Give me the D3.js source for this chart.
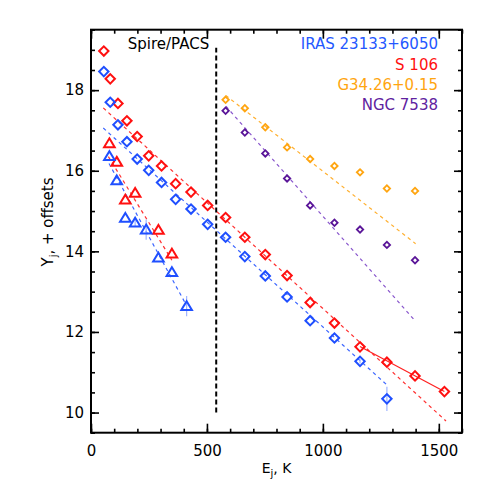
<!DOCTYPE html>
<html>
<head>
<meta charset="utf-8">
<script src="https://cdn.jsdelivr.net/npm/d3@7"></script>
<style>
  html, body { margin: 0; padding: 0; background: #fff; }
  svg text { font-family: "DejaVu Sans", sans-serif; }
</style>
</head>
<body>
<svg id="chart" width="491" height="491"></svg>
<script>
// ---- Data ----
// 12CO upper-level energies (K), J_up = 4..23
const E_CO = [55.3, 83.0, 116.2, 154.9, 199.1, 248.9, 304.2, 365.0, 431.3, 503.1,
              580.5, 663.4, 751.7, 845.6, 945.0, 1049.9, 1160.2, 1276.1, 1397.4, 1524.2];
// 13CO upper-level energies (K), J_up = 5..12
const E_13CO = [79.3, 111.1, 148.1, 190.4, 237.9, 290.8, 348.9, 412.4];

// S 106, 12CO J=4..23
const s106_CO = [18.97, 18.28, 17.67, 17.24, 16.85, 16.37, 16.12, 15.68, 15.47, 15.14,
                 14.84, 14.35, 13.92, 13.40, 12.73, 12.22, 11.63, 11.25, 10.91, 10.52];
// IRAS 23133+6050, 12CO J=4..21
const iras_CO = [18.46, 17.70, 17.14, 16.72, 16.29, 16.01, 15.71, 15.29, 15.05, 14.67,
                 14.35, 13.87, 13.39, 12.87, 12.28, 11.85, 11.27, 10.34];
const iras_CO_err = [0, 0, 0, 0, 0, 0, 0, 0, 0, 0, 0, 0, 0, 0, 0, 0, 0.05, 0.3];
// S 106, 13CO (J = 5,6,7,8,10,11)
const s106_13CO_E = [79.3, 111.1, 148.1, 190.4, 290.8, 348.9];
const s106_13CO = [16.68, 16.22, 15.28, 15.45, 14.53, 13.94];
// IRAS 23133+6050, 13CO J=5..12
const iras_13CO = [16.36, 15.76, 14.83, 14.71, 14.54, 13.84, 13.48, 12.64];
const iras_13CO_err = [0, 0, 0, 0.1, 0.25, 0, 0, 0.25];
// G34.26+0.15 and NGC 7538, 12CO J=14..22
const g34_CO = [17.76, 17.55, 17.08, 16.58, 16.29, 16.12, 15.96, 15.56, 15.50];
const ngc_CO = [17.49, 16.95, 16.43, 15.81, 15.14, 14.71, 14.54, 14.16, 13.78];

// Fitted lines: [E start, E end, Y start, Y end]
const fit_s106_CO   = [53, 1531, 17.56, 9.79];
const fit_s106_hot  = [1160, 1524, 11.64, 10.52];
const fit_iras_CO   = [53, 1281, 17.06, 10.66];
const fit_s106_13CO = [75, 349, 16.35, 13.78];
const fit_iras_13CO = [77.6, 412.7, 16.18, 12.65];
const fit_g34       = [581, 1400, 17.87, 14.19];
const fit_ngc       = [582, 1394, 17.60, 12.30];

const divider = [540, 10, 19.05];

const legendNames = ["IRAS 23133+6050", "S 106", "G34.26+0.15", "NGC 7538"];
const legendColors = ["#2457ff", "#ff1010", "#ffa510", "#6022a0"];

const xTicks = [0, 500, 1000, 1500];
const yTicks = [10, 12, 14, 16, 18];

// ---- Layout ----
const svg = d3.select("#chart");
const L = 91, R = 462, T = 29.7, B = 432.7;
const x = d3.scaleLinear().domain([0, 1600]).range([L, R]);
const y = d3.scaleLinear().domain([9.5, 19.5]).range([B, T]);

const blue = "#1f4fff", red = "#ff1010", orange = "#ffa510", purple = "#5a1598";

// ---- Axes ----
function styleAxis(g) {
  g.select(".domain").remove();
  g.selectAll(".tick line").attr("stroke", "#000").attr("stroke-width", 1.6);
  g.selectAll(".tick text").attr("fill", "#000").style("font-size", "15px")
    .style("font-family", "DejaVu Sans, sans-serif");
}
const xMinor = d3.range(0, 1601, 100);
const yMinor = d3.range(9.5, 19.51, 0.5);

// bottom
svg.append("g").attr("transform", `translate(0,${B})`)
  .call(d3.axisBottom(x).tickValues(xMinor).tickSize(-4).tickFormat("")).call(styleAxis);
svg.append("g").attr("transform", `translate(0,${B})`)
  .call(d3.axisBottom(x).tickValues(xTicks).tickSize(-9).tickPadding(13).tickFormat(d3.format("d")))
  .call(styleAxis);
// top
svg.append("g").attr("transform", `translate(0,${T})`)
  .call(d3.axisTop(x).tickValues(xMinor).tickSize(-4).tickFormat("")).call(styleAxis);
svg.append("g").attr("transform", `translate(0,${T})`)
  .call(d3.axisTop(x).tickValues(xTicks).tickSize(-9).tickFormat("")).call(styleAxis);
// left
svg.append("g").attr("transform", `translate(${L},0)`)
  .call(d3.axisLeft(y).tickValues(yMinor).tickSize(-4).tickFormat("")).call(styleAxis);
svg.append("g").attr("transform", `translate(${L},0)`)
  .call(d3.axisLeft(y).tickValues(yTicks).tickSize(-8).tickPadding(7).tickFormat(d3.format("d")))
  .call(styleAxis);
// right
svg.append("g").attr("transform", `translate(${R},0)`)
  .call(d3.axisRight(y).tickValues(yMinor).tickSize(-4).tickFormat("")).call(styleAxis);
svg.append("g").attr("transform", `translate(${R},0)`)
  .call(d3.axisRight(y).tickValues(yTicks).tickSize(-8).tickFormat("")).call(styleAxis);

// frame
svg.append("rect").attr("x", L).attr("y", T).attr("width", R - L).attr("height", B - T)
  .attr("fill", "none").attr("stroke", "#000").attr("stroke-width", 2);

// axis titles
const xt = svg.append("text").attr("x", (L + R) / 2).attr("y", 473)
  .attr("text-anchor", "middle").style("font-size", "14px");
xt.append("tspan").text("E");
xt.append("tspan").attr("dy", 4).style("font-size", "10px").text("j");
xt.append("tspan").attr("dy", -4).text(",  K");

const yt = svg.append("text")
  .attr("transform", `translate(53,222) rotate(-90)`)
  .attr("text-anchor", "middle").style("font-size", "15px");
yt.append("tspan").text("Y");
yt.append("tspan").attr("dy", 4).style("font-size", "10px").text("j");
yt.append("tspan").attr("dy", -4).text(",  +  offsets");

// divider
svg.append("line")
  .attr("x1", x(divider[0])).attr("x2", x(divider[0]))
  .attr("y1", y(divider[1])).attr("y2", y(divider[2]))
  .attr("stroke", "#000").attr("stroke-width", 2).attr("stroke-dasharray", "5,3");
svg.append("text").attr("x", x(divider[0]) - 7).attr("y", 49)
  .attr("text-anchor", "end").style("font-size", "15px").text("Spire/PACS");

// legend
svg.selectAll("text.leg").data(legendNames).join("text").attr("class", "leg")
  .attr("x", 438).attr("y", (d, i) => 49.3 + i * 20.3)
  .attr("text-anchor", "end").style("font-size", "15px")
  .attr("fill", (d, i) => legendColors[i]).text(d => d);

// fit lines
function fitLine(f, color, dash, w) {
  svg.append("line")
    .attr("x1", x(f[0])).attr("y1", y(f[2]))
    .attr("x2", x(f[1])).attr("y2", y(f[3]))
    .attr("stroke", color).attr("stroke-width", w || 1.2)
    .attr("stroke-dasharray", dash);
}
fitLine(fit_s106_CO, "#ff3030", "3.5,3.5");
fitLine(fit_s106_hot, "#ff2020", null, 1.2);
fitLine(fit_iras_CO, "#3c66ff", "3.5,3.5");
fitLine(fit_s106_13CO, "#ff3030", "3.5,3.5");
fitLine(fit_iras_13CO, "#3c66ff", "3.5,3.5");
fitLine(fit_g34, "#ffb030", "3.5,3.5");
fitLine(fit_ngc, "#8855cc", "3.5,3.5");

// error bars
function errBars(E, Y, err, color) {
  const d = E.map((e, i) => ({ e, y: Y[i], s: err[i] })).filter(p => p.s > 0);
  svg.append("g").selectAll("line").data(d).join("line")
    .attr("x1", p => x(p.e)).attr("x2", p => x(p.e))
    .attr("y1", p => y(p.y - p.s)).attr("y2", p => y(p.y + p.s))
    .attr("stroke", color).attr("stroke-width", 1.2);
}
errBars(E_CO, iras_CO, iras_CO_err, "#9fb4ff");
errBars(E_13CO, iras_13CO, iras_13CO_err, "#9fb4ff");

// markers
function diamonds(E, Y, color, r, sw) {
  const sym = d3.symbol().type(d3.symbolSquare).size((r * Math.SQRT2) ** 2);
  svg.append("g").selectAll("path").data(E.slice(0, Y.length).map((e, i) => [e, Y[i]])).join("path")
    .attr("d", sym)
    .attr("transform", d => `translate(${x(d[0])},${y(d[1])}) rotate(45)`)
    .attr("fill", "none").attr("stroke", color).attr("stroke-width", sw);
}
function triangles(E, Y, color) {
  svg.append("g").selectAll("path").data(E.slice(0, Y.length).map((e, i) => [e, Y[i]])).join("path")
    .attr("d", "M0,-5 L5.3,3.8 L-5.3,3.8 Z")
    .attr("transform", d => `translate(${x(d[0])},${y(d[1])})`)
    .attr("fill", "none").attr("stroke", color).attr("stroke-width", 2);
}
diamonds(E_CO, s106_CO, red, 4.7, 2);
diamonds(E_CO, iras_CO, blue, 4.7, 2);
triangles(s106_13CO_E, s106_13CO, red);
triangles(E_13CO, iras_13CO, blue);
diamonds(E_CO.slice(10), g34_CO, orange, 3.2, 1.8);
diamonds(E_CO.slice(10), ngc_CO, purple, 3.2, 1.8);
</script>
</body>
</html>
